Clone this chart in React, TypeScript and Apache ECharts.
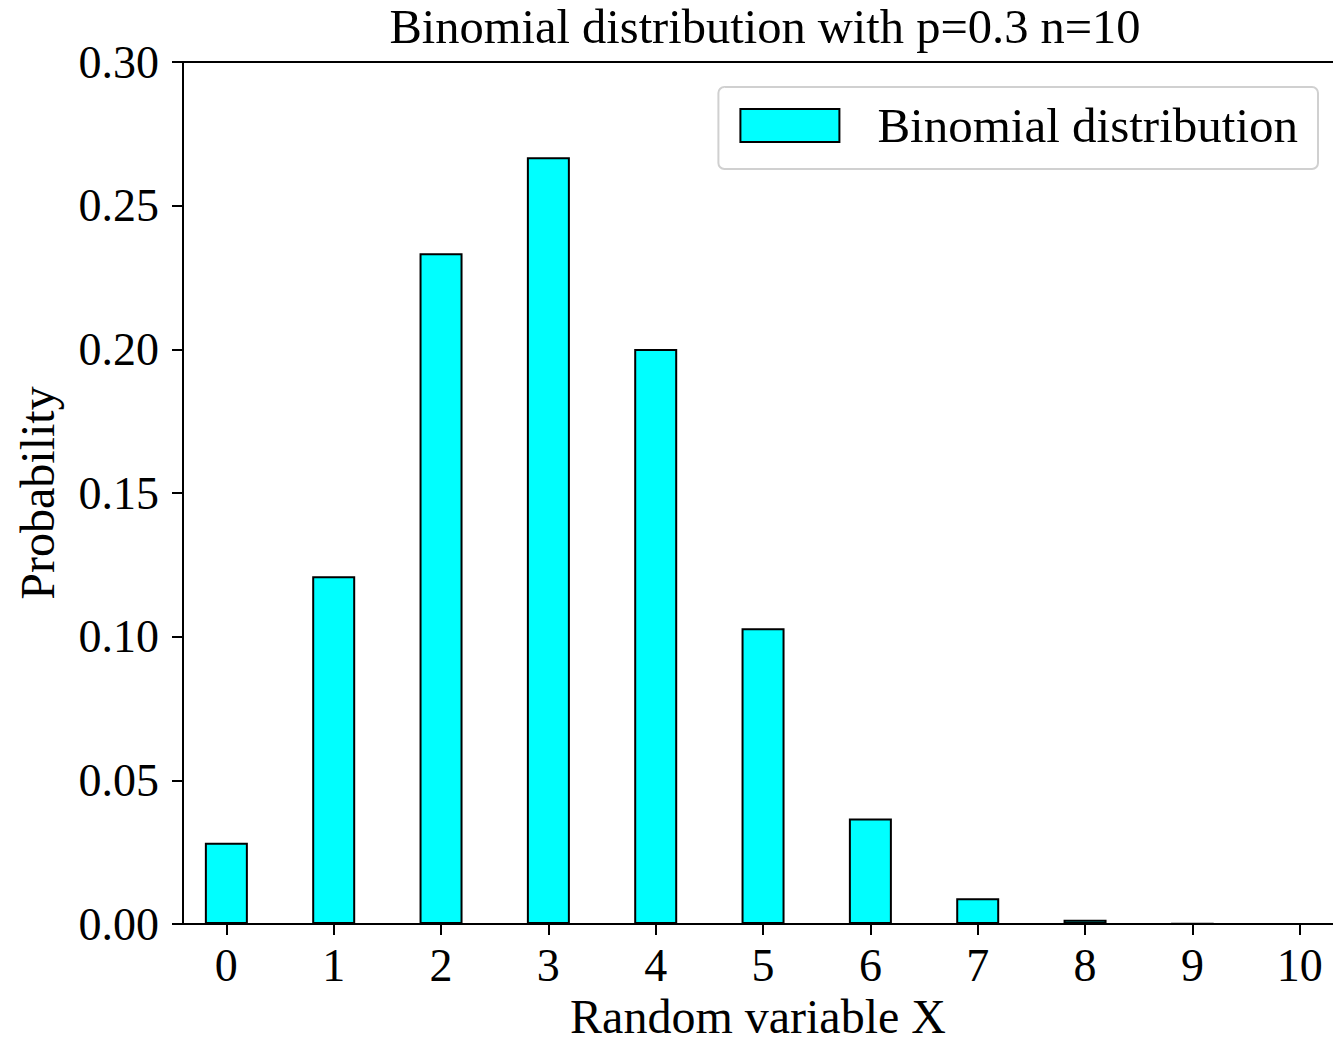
import React, { useEffect, useRef } from "react";
import * as echarts from "echarts";

const ks = [0, 1, 2, 3, 4, 5, 6, 7, 8, 9, 10];
const probs = [
  0.0282475, 0.1210608, 0.2334744, 0.2668279, 0.2001209, 0.1029193, 0.0367569,
  0.0090017, 0.0014467, 0.0001378, 0.0000059,
];
const titleText = "Binomial distribution with p=0.3 n=10";
const seriesName = "Binomial distribution";
const xName = "Random variable X";
const yName = "Probability";

const FONT = "'Liberation Serif', 'Times New Roman', serif";

export default function App() {
  const ref = useRef<HTMLDivElement>(null);
  useEffect(() => {
    if (!ref.current) return;
    const chart = echarts.init(ref.current, null, { renderer: "svg" });
    chart.setOption({
      animation: false,
      backgroundColor: "#fff",
      textStyle: { fontFamily: FONT, color: "#000" },
      title: {
        text: titleText,
        left: 760,
        textAlign: "center",
        top: -3,
        textStyle: { fontFamily: FONT, fontSize: 48.5, fontWeight: "normal", color: "#000" },
      },
      legend: {
        data: [seriesName],
        right: 15,
        top: 87,
        padding: [14, 20, 19, 21],
        itemWidth: 99,
        itemHeight: 33,
        icon: "rect",
        borderColor: "#d0d0d0",
        borderWidth: 2,
        borderRadius: 6,
        itemStyle: { color: "#00ffff", borderColor: "#000", borderWidth: 2 },
        textStyle: {
          fontFamily: FONT,
          fontSize: 49,
          lineHeight: 47,
          color: "#000",
          padding: [0, 0, 0, 33],
        },
      },
      grid: {
        left: 183,
        right: 0,
        top: 62,
        bottom: 119,
        containLabel: false,
        outerBoundsMode: "none",
      },
      xAxis: [
        {
          type: "value",
          min: -0.404,
          max: 10.31,
          name: xName,
          nameLocation: "middle",
          nameGap: 72,
          nameTextStyle: { fontFamily: FONT, fontSize: 48, lineHeight: 38, color: "#000" },
          splitLine: { show: false },
          axisLine: { show: true, onZero: false, lineStyle: { color: "#000", width: 2 } },
          axisTick: {
            show: true,
            customValues: ks,
            length: 11,
            inside: false,
            lineStyle: { color: "#000", width: 2 },
          },
          axisLabel: {
            customValues: ks,
            fontFamily: FONT,
            fontSize: 46,
            color: "#000",
            margin: 18,
            formatter: (v: number) => String(Math.round(v)),
          },
        },
        {
          type: "value",
          position: "top",
          min: -0.404,
          max: 10.31,
          splitLine: { show: false },
          axisLine: { show: true, onZero: false, lineStyle: { color: "#000", width: 2 } },
          axisTick: { show: false },
          axisLabel: { show: false },
        },
      ],
      yAxis: {
        type: "value",
        min: 0,
        max: 0.3,
        interval: 0.05,
        name: yName,
        nameLocation: "middle",
        nameGap: 122,
        nameRotate: 90,
        nameTextStyle: { fontFamily: FONT, fontSize: 48, color: "#000" },
        splitLine: { show: false },
        axisLine: { show: true, onZero: false, lineStyle: { color: "#000", width: 2 } },
        axisTick: { show: true, length: 11, lineStyle: { color: "#000", width: 2 } },
        axisLabel: {
          fontFamily: FONT,
          fontSize: 46,
          color: "#000",
          margin: 24,
          formatter: (v: number) => v.toFixed(2),
        },
      },
      series: [
        {
          name: seriesName,
          type: "bar",
          xAxisIndex: 0,
          barWidth: 43,
          data: ks.map((k, i) => [k, probs[i]]),
          itemStyle: { color: "#00ffff", borderColor: "#000", borderWidth: 2 },
        },
      ],
    });
    return () => chart.dispose();
  }, []);
  return (
    <div
      ref={ref}
      style={{ position: "fixed", left: 0, top: 0, width: 1333, height: 1043 }}
    />
  );
}
